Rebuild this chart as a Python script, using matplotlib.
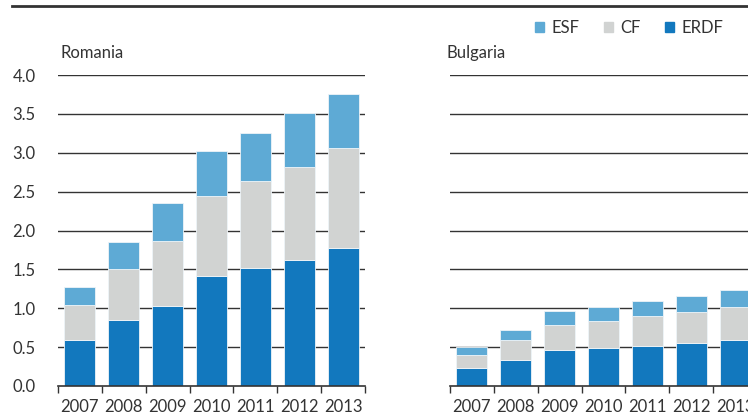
import matplotlib.pyplot as plt
from matplotlib.patches import Patch
from matplotlib.lines import Line2D
import numpy as np

plt.rcParams['font.family'] = ['Lato', 'DejaVu Sans']

years = ['2007', '2008', '2009', '2010', '2011', '2012', '2013']

# EUR billion, stacked: ERDF, CF, ESF
ro_erdf = [0.59, 0.85, 1.03, 1.42, 1.52, 1.62, 1.78]
ro_cf = [0.45, 0.65, 0.84, 1.02, 1.12, 1.20, 1.28]
ro_esf = [0.23, 0.35, 0.48, 0.58, 0.62, 0.69, 0.70]

bg_erdf = [0.23, 0.34, 0.46, 0.49, 0.52, 0.55, 0.59]
bg_cf = [0.17, 0.25, 0.33, 0.345, 0.38, 0.40, 0.42]
bg_esf = [0.10, 0.13, 0.175, 0.18, 0.19, 0.21, 0.22]

c_erdf = '#1278be'
c_cf = '#d1d3d2'
c_esf = '#5eaad5'
dark = '#333333'
fs = 12

W, H = 748, 417
fig = plt.figure(figsize=(W / 100, H / 100), dpi=100)

def px(x0, y0, x1, y1):
    return [x0 / W, 1 - y1 / H, (x1 - x0) / W, (y1 - y0) / H]

ax1 = fig.add_axes(px(58, 75, 365, 386))
ax2 = fig.add_axes(px(450, 75, 757, 386))

def panel(ax, erdf, cf, esf, labels):
    x = np.arange(len(years))
    erdf = np.array(erdf); cf = np.array(cf); esf = np.array(esf)
    for y in np.arange(0.5, 4.01, 0.5):
        ax.axhline(y, color=dark, lw=1, zorder=0)
    kw = dict(width=0.71, edgecolor='#eef4f8', linewidth=0.6, zorder=2)
    ax.bar(x, erdf, color=c_erdf, **kw)
    ax.bar(x, cf, bottom=erdf, color=c_cf, **kw)
    ax.bar(x, esf, bottom=erdf + cf, color=c_esf, **kw)
    ax.set_xlim(-0.5, 6.5)
    ax.set_ylim(0, 4)
    for s in ['top', 'right', 'left']:
        ax.spines[s].set_visible(False)
    ax.spines['bottom'].set_color(dark)
    ax.spines['bottom'].set_linewidth(1.2)
    ax.set_xticks(x)
    ax.set_xticklabels(years, fontsize=fs, color=dark)
    ax.set_xticks(np.arange(-0.5, 7, 1), minor=True)
    ax.tick_params(axis='x', which='major', length=0, pad=9)
    ax.tick_params(axis='x', which='minor', length=5, color=dark, width=1)
    ax.set_yticks(np.arange(0, 4.01, 0.5))
    if labels:
        ax.set_yticklabels([f'{v:.1f}' for v in np.arange(0, 4.01, 0.5)],
                           fontsize=fs, color=dark)
    else:
        ax.set_yticklabels([])
    ax.tick_params(axis='y', length=0, pad=16)

panel(ax1, ro_erdf, ro_cf, ro_esf, True)
panel(ax2, bg_erdf, bg_cf, bg_esf, False)

fig.text(60 / W, 1 - 53 / H, 'Romania', fontsize=fs, color=dark, va='center')
fig.text(446 / W, 1 - 53 / H, 'Bulgaria', fontsize=fs, color=dark, va='center')

# header mostly outside the picture, as in the source
fig.text(33 / W, 1 + 1 / H, 'EUR billion', fontsize=fs, color='#999999', va='baseline')
fig.add_artist(Line2D([12 / W, 1], [1 - 5.5 / H] * 2, color=dark, lw=2))

handles = [Patch(color=c_esf), Patch(color=c_cf), Patch(color=c_erdf)]
fig.legend(handles, ['ESF', 'CF', 'ERDF'], ncol=3, frameon=False,
           loc='center right', bbox_to_anchor=(738 / W, 1 - 28 / H),
           fontsize=fs, handlelength=0.55, handleheight=0.55,
           handletextpad=0.4, columnspacing=1.5, labelcolor=dark)

fig.savefig('out.png', dpi=100)
